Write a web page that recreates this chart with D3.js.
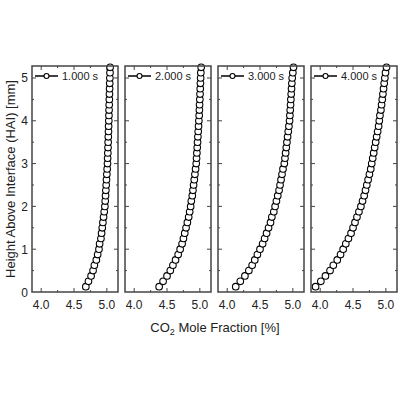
<!DOCTYPE html>
<html>
<head>
<meta charset="UTF-8">
<style>
  body { margin: 0; background: #fff; }
  text { font-family: "Liberation Sans", Arial, sans-serif; }
</style>
</head>
<body>
<svg id="chart" width="400" height="400"></svg>
<script src="https://cdn.jsdelivr.net/npm/d3@7"></script>
<script>
// heights above interface [mm]
const heights = [0.125,0.25,0.375,0.5,0.625,0.75,0.875,1.0,1.125,1.25,1.375,1.5,1.625,1.75,1.875,2.0,
  2.125,2.25,2.375,2.5,2.625,2.75,2.875,3.0,3.125,3.25,3.375,3.5,3.625,3.75,3.875,4.0,
  4.125,4.25,4.375,4.5,4.625,4.75,4.875,5.0,5.125,5.25];
const times = ["1.000 s", "2.000 s", "3.000 s", "4.000 s"];
const co2_1 = [4.68,4.72,4.76,4.79,4.81,4.84,4.86,4.88,4.89,4.91,4.92,4.93,4.94,4.95,4.96,4.97,
  4.975,4.98,4.985,4.99,4.995,5.0,5.005,5.01,5.012,5.015,5.018,5.02,5.022,5.025,5.027,5.03,
  5.032,5.034,5.036,5.038,5.04,5.042,5.044,5.046,5.048,5.05];
const co2_2 = [4.38,4.44,4.50,4.55,4.59,4.63,4.67,4.70,4.73,4.75,4.77,4.79,4.81,4.83,4.845,4.86,
  4.87,4.885,4.895,4.905,4.915,4.925,4.935,4.945,4.95,4.955,4.96,4.965,4.97,4.975,4.98,4.985,
  4.99,4.993,4.996,5.0,5.003,5.006,5.009,5.012,5.015,5.02];
const co2_3 = [4.13,4.20,4.27,4.33,4.38,4.42,4.46,4.50,4.54,4.57,4.60,4.63,4.66,4.68,4.71,4.73,
  4.75,4.77,4.79,4.805,4.82,4.835,4.85,4.87,4.88,4.89,4.90,4.91,4.92,4.93,4.94,4.95,
  4.955,4.96,4.965,4.97,4.975,4.98,4.985,4.99,5.0,5.01];
const co2_4 = [3.93,4.01,4.08,4.15,4.20,4.26,4.31,4.35,4.39,4.43,4.47,4.50,4.53,4.56,4.59,4.62,
  4.645,4.67,4.69,4.71,4.73,4.75,4.77,4.785,4.80,4.815,4.83,4.845,4.86,4.875,4.89,4.90,
  4.91,4.925,4.935,4.945,4.955,4.965,4.975,4.985,4.995,5.01];
const series = [co2_1, co2_2, co2_3, co2_4];
const xTicks = [4.0, 4.5, 5.0];
const xMinor = [3.75, 4.25, 4.75, 5.25];
const yTicks = [0, 1, 2, 3, 4, 5];
const yMinor = [0.5, 1.5, 2.5, 3.5, 4.5];

const svg = d3.select("#chart");
const plotTop = 66, plotBottom = 292, panelW = 86, gap = 7, left0 = 32;
const y = d3.scaleLinear().domain([0, 5.28]).range([plotBottom, plotTop]);
const frame = "#444";

series.forEach((vals, i) => {
  const x0 = left0 + i * (panelW + gap);
  const x = d3.scaleLinear().domain([3.86, 5.17]).range([x0, x0 + panelW]);
  const g = svg.append("g");

  // inward ticks on all sides
  const tick = (vs, len, isX) => vs.forEach(v => {
    if (isX) {
      g.append("line").attr("x1", x(v)).attr("x2", x(v)).attr("y1", plotBottom).attr("y2", plotBottom - len).attr("stroke", frame);
      g.append("line").attr("x1", x(v)).attr("x2", x(v)).attr("y1", plotTop).attr("y2", plotTop + len).attr("stroke", frame);
    } else {
      g.append("line").attr("y1", y(v)).attr("y2", y(v)).attr("x1", x0).attr("x2", x0 + len).attr("stroke", frame);
      g.append("line").attr("y1", y(v)).attr("y2", y(v)).attr("x1", x0 + panelW).attr("x2", x0 + panelW - len).attr("stroke", frame);
    }
  });
  tick(xTicks.filter(v => x(v) > x0 && x(v) < x0 + panelW), 4, true);
  tick(xMinor.filter(v => x(v) > x0 && x(v) < x0 + panelW), 2, true);
  tick(yTicks.filter(v => v > 0), 4, false);
  tick(yMinor, 2, false);

  g.selectAll(".xl").data(xTicks).join("text")
    .attr("x", d => x(d)).attr("y", plotBottom + 17)
    .attr("text-anchor", "middle").attr("font-size", 12).attr("fill", "#222")
    .text(d => d.toFixed(1));

  // line + markers
  const pts = vals.map((v, j) => [v, heights[j]]);
  g.append("path").datum(pts)
    .attr("d", d3.line().x(d => x(d[0])).y(d => y(d[1])))
    .attr("fill", "none").attr("stroke", "#000").attr("stroke-width", 1);
  g.selectAll("circle.m").data(pts).join("circle")
    .attr("cx", d => x(d[0])).attr("cy", d => y(d[1])).attr("r", 3.3)
    .attr("fill", "#fff").attr("stroke", "#000").attr("stroke-width", 1.1);

  // legend
  g.append("line").attr("x1", x0 + 3).attr("x2", x0 + 26).attr("y1", 76).attr("y2", 76)
    .attr("stroke", "#000").attr("stroke-width", 1.5);
  g.append("circle").attr("cx", x0 + 14.5).attr("cy", 76).attr("r", 2.5)
    .attr("fill", "#fff").attr("stroke", "#000").attr("stroke-width", 1.1);
  g.append("text").attr("x", x0 + 30).attr("y", 80).attr("font-size", 11).attr("fill", "#222")
    .text(times[i]);

  g.append("rect").attr("x", x0).attr("y", plotTop).attr("width", panelW).attr("height", plotBottom - plotTop)
    .attr("fill", "none").attr("stroke", frame).attr("stroke-width", 1.5);
});

// y tick labels
svg.selectAll(".yl").data(yTicks).join("text")
  .attr("x", left0 - 4).attr("y", d => y(d) + 4.5)
  .attr("text-anchor", "end").attr("font-size", 12).attr("fill", "#222")
  .text(d => d);

svg.append("text")
  .attr("transform", `translate(15,${(plotTop + plotBottom) / 2}) rotate(-90)`)
  .attr("text-anchor", "middle").attr("font-size", 13).attr("fill", "#222")
  .text("Height Above Interface (HAI) [mm]");

const xl = svg.append("text").attr("x", 215).attr("y", 332)
  .attr("text-anchor", "middle").attr("font-size", 13).attr("fill", "#222");
xl.append("tspan").text("CO");
xl.append("tspan").attr("font-size", 9).attr("dy", 3).text("2");
xl.append("tspan").attr("dy", -3).text(" Mole Fraction [%]");
</script>
</body>
</html>
